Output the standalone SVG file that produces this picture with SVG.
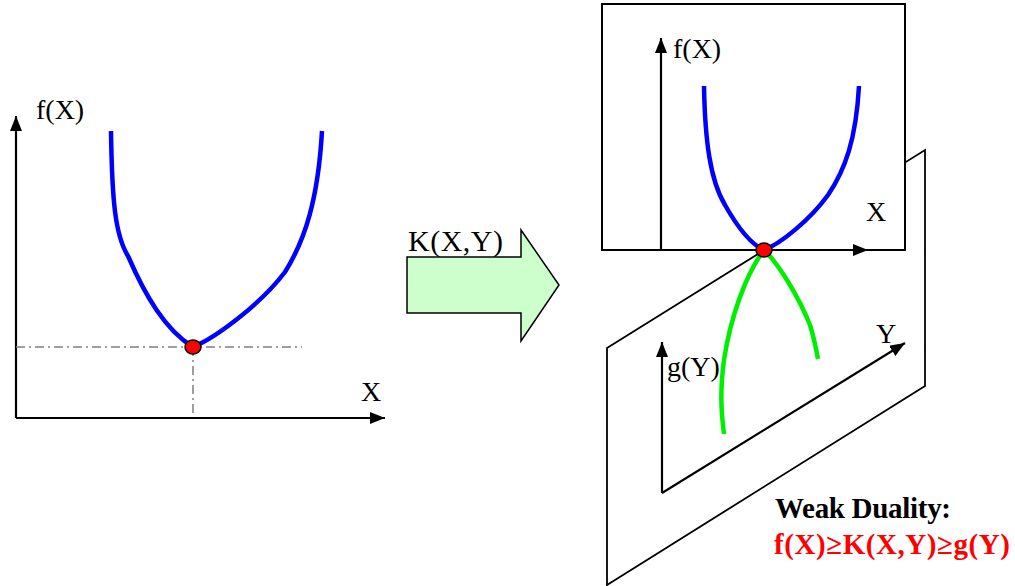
<svg xmlns="http://www.w3.org/2000/svg" width="1015" height="586" viewBox="0 0 1015 586">
<style>
.ax{stroke:#000;stroke-width:2.2;fill:none}
.lbl{font-family:"Liberation Serif","DejaVu Serif","Times New Roman",serif;font-size:28px;fill:#000}
.big{font-size:30px}
.bold{font-family:"Liberation Serif","DejaVu Serif","Times New Roman",serif;font-size:29px;font-weight:bold}
.blue{stroke:#0000ff;stroke-width:4.5;fill:none}
.green{stroke:#00ee00;stroke-width:4.5;fill:none}
.dash{stroke:#808080;stroke-width:1.5;stroke-dasharray:9,4,2,4;fill:none}
.dot{fill:#ff0000;stroke:#000;stroke-width:1.5}
.thin{stroke:#000;stroke-width:1.8;fill:none}
</style>
<defs>
<marker id="ah" markerUnits="userSpaceOnUse" markerWidth="16" markerHeight="14" refX="15" refY="6" orient="auto">
<path d="M0,0 L15,6 L0,12 z" fill="#000"/>
</marker>
</defs>
<g id="left-chart">
<path class="ax" d="M16,418 L16,116" marker-end="url(#ah)"/>
<path class="ax" d="M16,418 L385,418" marker-end="url(#ah)"/>
<path class="dash" d="M16,347 L302,347"/>
<path class="dash" d="M193,347 L193,413"/>
<path class="blue" d="M111,131 C112,200 115,235 128,256 C145,295 165,330 193,347 C215,338 260,305 285,272 C305,240 318,200 322,131"/>
<ellipse class="dot" cx="193" cy="347" rx="8" ry="7"/>
<text class="lbl" x="36" y="119">f(X)</text>
<text class="lbl" x="361" y="401">X</text>
</g>
<g id="transform-arrow">
<path d="M407,257 L521,257 L521,230 L559,285 L521,341 L521,313 L407,313 z" fill="#ccffcc" stroke="#000" stroke-width="1.5"/>
<text class="lbl big" x="408" y="251" textLength="95">K(X,Y)</text>
</g>
<g id="g-plane">
<path class="thin" d="M607,348 L925,150 L925,386 L607,585 z"/>
</g>
<g id="f-panel">
<rect x="602" y="4" width="303" height="246" fill="#fff" stroke="#000" stroke-width="2"/>
<path class="ax" d="M661,250 L661,38" marker-end="url(#ah)"/>
<path class="ax" d="M661,250 L868,250" marker-end="url(#ah)"/>
<text class="lbl" x="673" y="58">f(X)</text>
<text class="lbl" x="866" y="221">X</text>
<path class="blue" d="M704,86 C705,140 710,180 725,205 C738,228 750,244 764,250 C780,244 810,220 828,195 C845,170 856,140 859,86"/>
</g>
<g id="g-chart">
<path class="ax" d="M662,493 L662,342" marker-end="url(#ah)"/>
<path class="ax" d="M662,493 L905,343" marker-end="url(#ah)"/>
<text class="lbl" x="667" y="376">g(Y)</text>
<text class="lbl" x="876" y="343">Y</text>
<path class="green" d="M764,250 C745,275 730,320 724,360 C720,390 721,410 724,434"/>
<path class="green" d="M764,250 C780,265 800,300 810,325 C814,338 816,348 818,359"/>
</g>
<g id="optimum">
<ellipse class="dot" cx="764" cy="250" rx="8" ry="7"/>
</g>
<g id="weak-duality">
<text class="bold" x="775" y="518" fill="#000" textLength="176">Weak Duality:</text>
<text class="bold" x="774" y="554" fill="#ff0000" textLength="236">f(X)≥K(X,Y)≥g(Y)</text>
</g>
</svg>
